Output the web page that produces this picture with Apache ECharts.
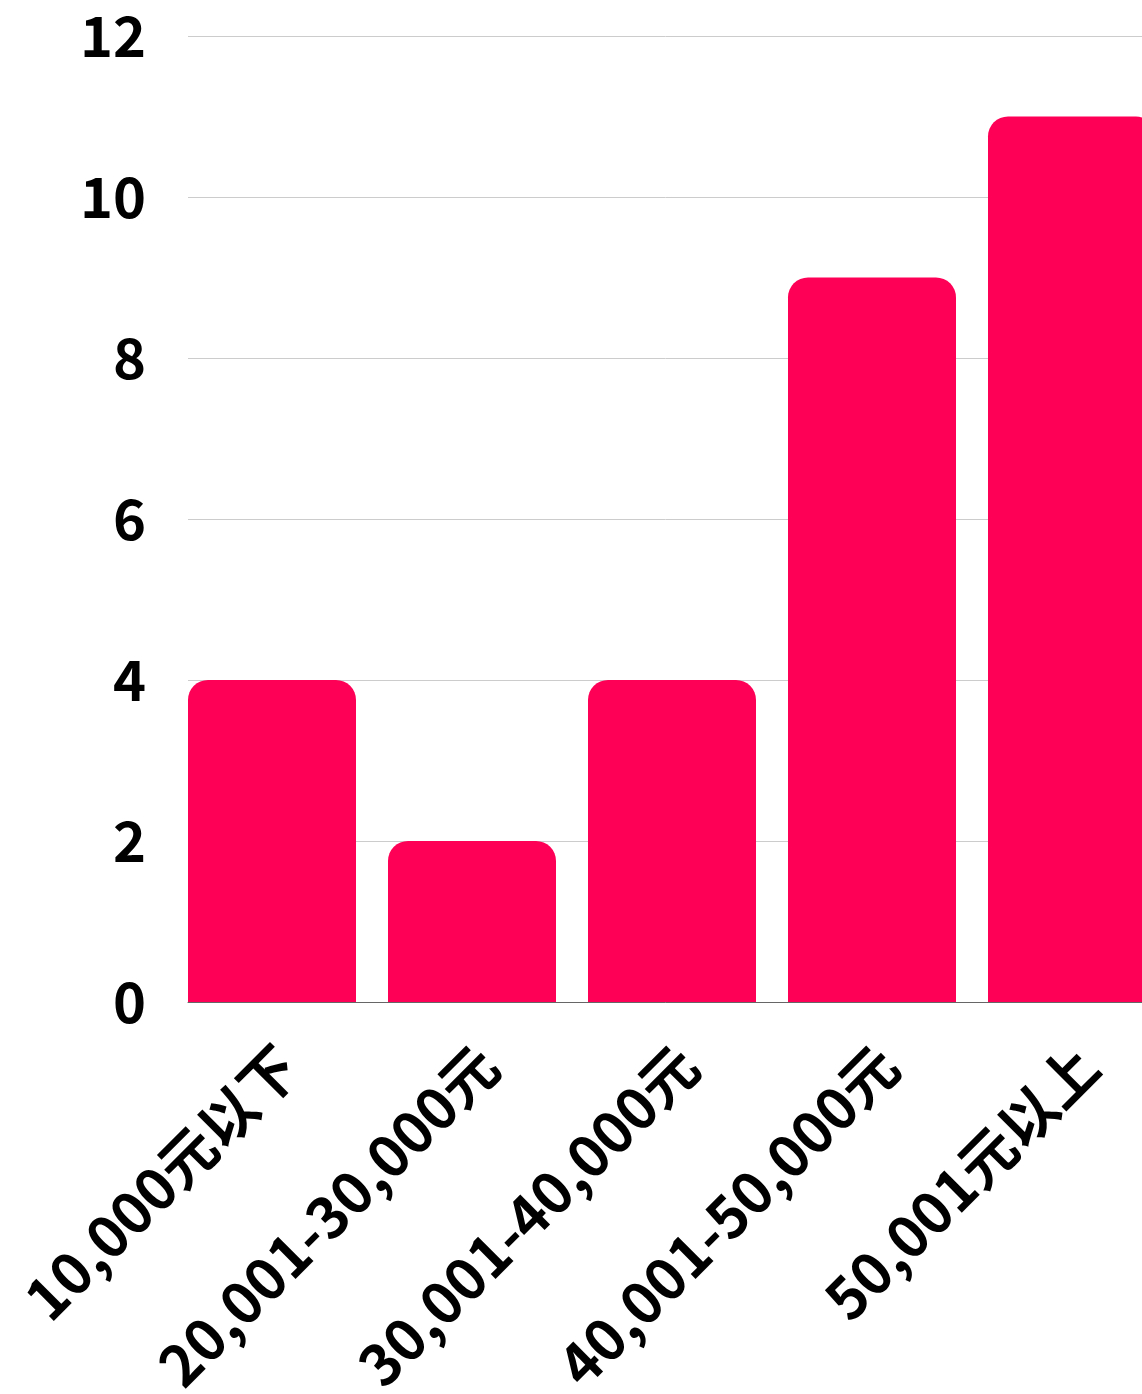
<!DOCTYPE html>
<html>
<head>
<meta charset="utf-8">
<script src="https://cdn.jsdelivr.net/npm/echarts@6/dist/echarts.min.js"></script>
<style>html,body{margin:0;padding:0;background:#fff}#c{width:1142px;height:1394px}</style>
</head>
<body>
<div id="c"></div>
<script>
const categories = ['10,000元以下', '20,001-30,000元', '30,001-40,000元', '40,001-50,000元', '50,001元以上'];
const values = [4, 2, 4, 9, 11];
const yTicks = { min: 0, max: 12, interval: 2 };

const FONT = '"Noto Sans CJK SC", "Noto Sans", sans-serif';
const chart = echarts.init(document.getElementById('c'));
chart.setOption({
  backgroundColor: '#fff',
  animation: false,
  grid: [
    { left: 188, width: 1000, top: 36, bottom: 392, containLabel: false, outerBoundsMode: 'none' },
    { left: 172, width: 1000, top: 36, bottom: 392, containLabel: false, outerBoundsMode: 'none' }
  ],
  xAxis: [
    { type: 'category', gridIndex: 0, data: categories,
      axisLine: { show: true, lineStyle: { color: '#666', width: 1 } },
      axisTick: { show: false },
      axisLabel: { show: true, rotate: 45, interval: 0, margin: 54, fontSize: 57, fontWeight: 'bold', color: '#000', fontFamily: FONT },
      splitLine: { show: false } },
    { type: 'category', gridIndex: 1, data: categories,
      axisLine: { show: false }, axisTick: { show: false }, axisLabel: { show: false },
      splitLine: { show: false } }
  ],
  yAxis: [
    { type: 'value', gridIndex: 0, min: yTicks.min, max: yTicks.max, interval: yTicks.interval,
      axisLine: { show: false }, axisTick: { show: false },
      axisLabel: { fontSize: 56, fontWeight: 'bold', color: '#000', margin: 42, fontFamily: FONT },
      splitLine: { show: true, lineStyle: { color: '#cccccc', width: 1 } } },
    { type: 'value', gridIndex: 1, min: yTicks.min, max: yTicks.max, interval: yTicks.interval,
      show: false, splitLine: { show: false } }
  ],
  series: [{
    type: 'bar', xAxisIndex: 1, yAxisIndex: 1, data: values, barWidth: 168,
    itemStyle: { color: '#FF0057', borderRadius: [20, 20, 0, 0] }
  }]
});
</script>
</body>
</html>
